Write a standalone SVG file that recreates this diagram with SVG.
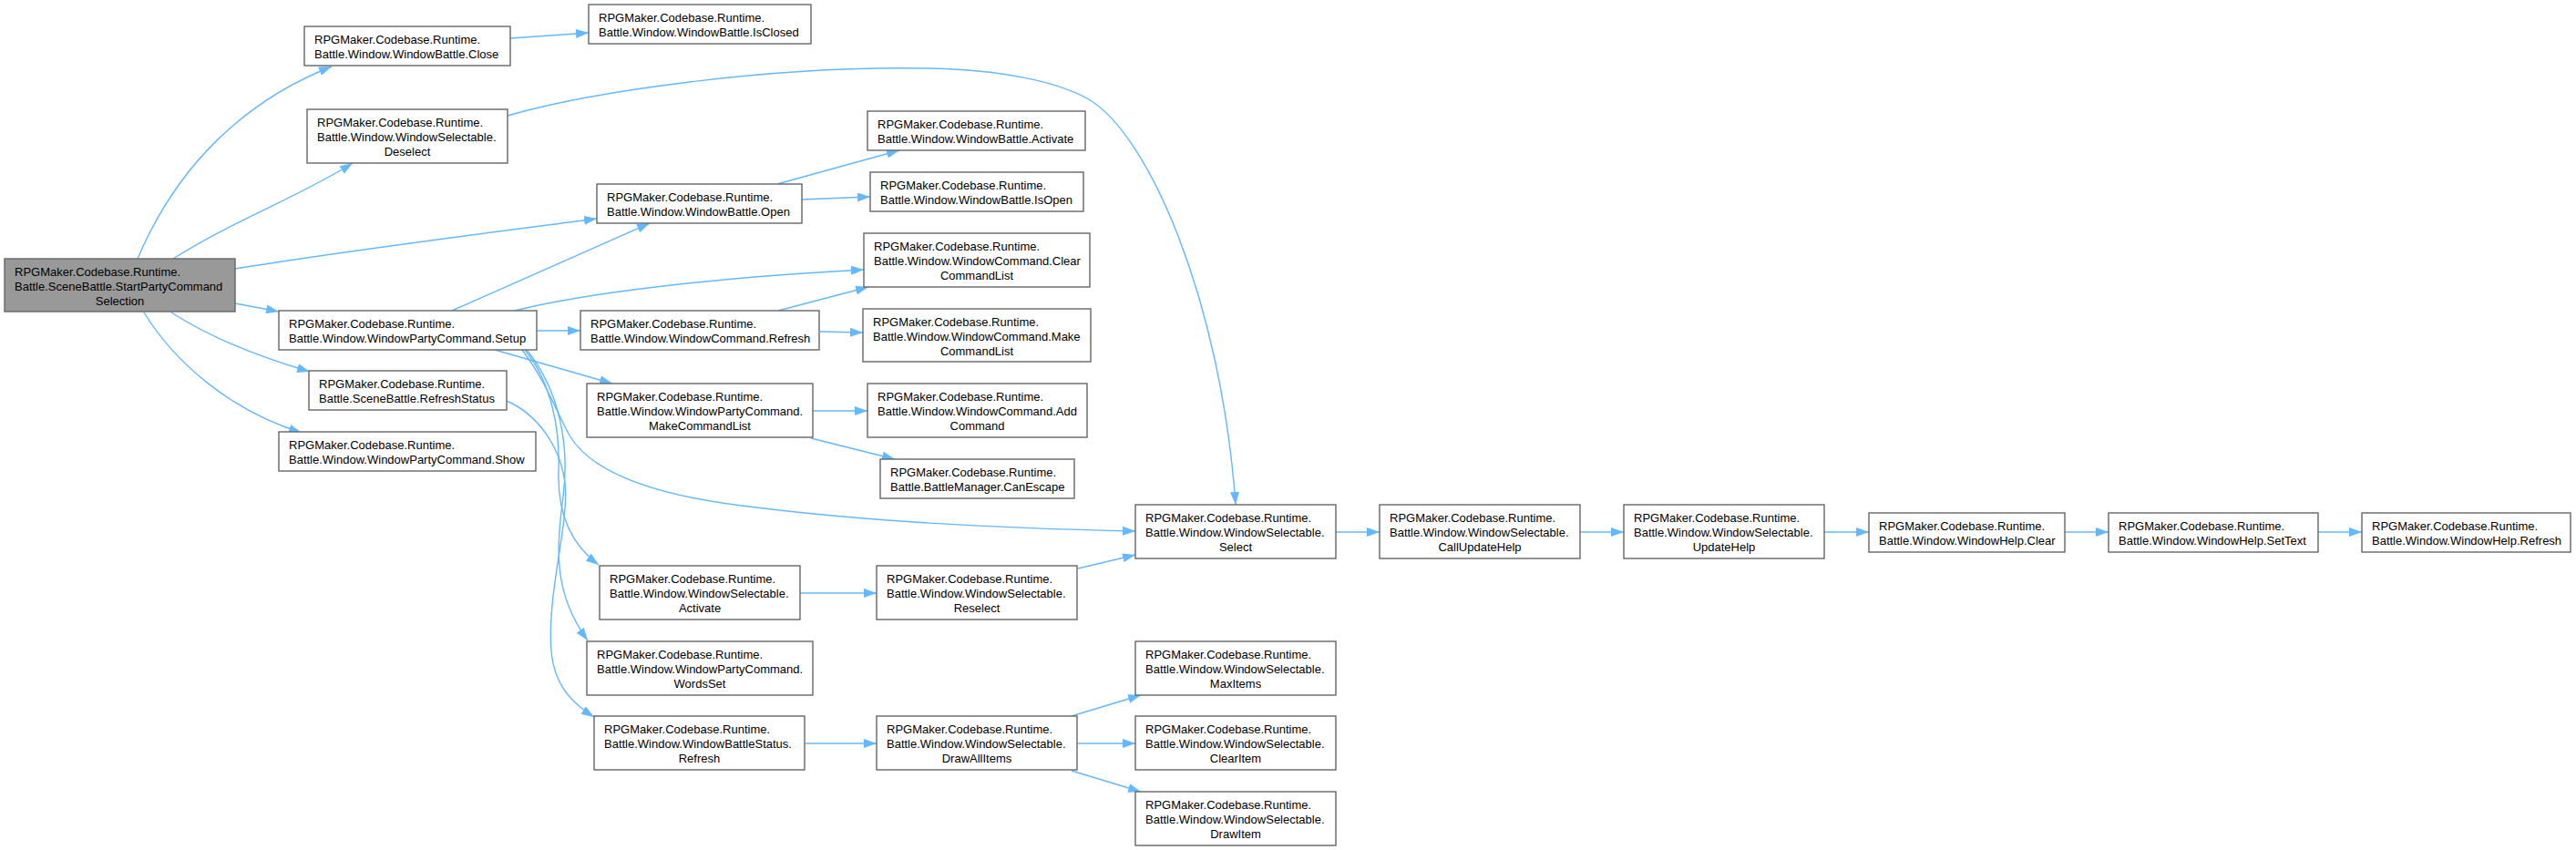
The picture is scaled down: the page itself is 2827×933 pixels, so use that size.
<svg xmlns="http://www.w3.org/2000/svg" width="2827" height="933" viewBox="0 0 2827 933">
<style>
.n rect{fill:#fff;stroke:#666;stroke-width:1.4}
.m rect{fill:#999;stroke:#666;stroke-width:1.4}
text{font-family:"Liberation Sans",Arial,sans-serif;font-size:13px;fill:#000}
.c{text-anchor:middle}
#edges path{fill:none;stroke:#63b8ff;stroke-width:1.4;marker-end:url(#ah)}
</style>
<defs>
<marker id="ah" viewBox="0 0 14 10" refX="14" refY="5" markerUnits="userSpaceOnUse" markerWidth="14" markerHeight="10" orient="auto">
<path d="M0,0 L14,5 L0,10 z" fill="#63b8ff"/>
</marker>
</defs>
<rect width="2827" height="933" fill="#fff"/>
<g id="edges">
<path d="M151,284 C195,180 270,110 364,73"/>
<path d="M190,284 C260,240 330,215 387,179"/>
<path d="M258,295 C380,275 540,255 655,240"/>
<path d="M258,333 L306,342"/>
<path d="M188,343 C230,370 285,392 340,408"/>
<path d="M158,343 C190,395 250,450 331,475"/>
<path d="M560,42 L646,36"/>
<path d="M557,127 C650,100 850,72 1013,75 C1100,76 1160,90 1193,108 C1260,145 1340,330 1356,554"/>
<path d="M853,202 L987,165"/>
<path d="M880,219 L955,216"/>
<path d="M496,341 L713,245"/>
<path d="M565,341 C640,322 780,305 948,296"/>
<path d="M589,363 L637,363"/>
<path d="M543,384 L672,421"/>
<path d="M573,384 C600,420 612,455 625,478 C650,520 720,545 830,557 C950,572 1100,580 1246,583"/>
<path d="M576,384 C605,420 615,470 613,520 C612,570 630,600 657,620"/>
<path d="M578,384 C615,430 625,490 618,545 C611,600 606,650 645,703"/>
<path d="M556,440 C590,455 615,490 620,530 C625,575 600,650 605,715 C608,752 628,772 652,787"/>
<path d="M892,451 L952,451"/>
<path d="M890,481 L982,504"/>
<path d="M854,341 L953,315"/>
<path d="M900,364 L947,365"/>
<path d="M878,651 L962,651"/>
<path d="M1183,624 L1246,609"/>
<path d="M884,816 L962,816"/>
<path d="M1176,786 L1252,763"/>
<path d="M1183,816 L1246,816"/>
<path d="M1176,846 L1252,869"/>
<path d="M1466,584 L1514,584"/>
<path d="M1734,584 L1782,584"/>
<path d="M2002,584 L2051,584"/>
<path d="M2266,584 L2314,584"/>
<path d="M2544,584 L2592,584"/>
</g>
<g id="main" class="m"><rect x="5" y="284" width="253" height="58"/><text x="16" y="302.5">RPGMaker.Codebase.Runtime.</text><text x="16" y="318.5">Battle.SceneBattle.StartPartyCommand</text><text class="c" x="131.5" y="334.5">Selection</text></g>
<g id="close" class="n"><rect x="334" y="29" width="226" height="43"/><text x="345" y="47.5">RPGMaker.Codebase.Runtime.</text><text x="345" y="63.5">Battle.Window.WindowBattle.Close</text></g>
<g id="isclosed" class="n"><rect x="646" y="5" width="244" height="43"/><text x="657" y="23.5">RPGMaker.Codebase.Runtime.</text><text x="657" y="39.5">Battle.Window.WindowBattle.IsClosed</text></g>
<g id="deselect" class="n"><rect x="337" y="120" width="220" height="59"/><text x="348" y="138.5">RPGMaker.Codebase.Runtime.</text><text x="348" y="154.5">Battle.Window.WindowSelectable.</text><text class="c" x="447" y="170.5">Deselect</text></g>
<g id="open" class="n"><rect x="655" y="202" width="225" height="43"/><text x="666" y="220.5">RPGMaker.Codebase.Runtime.</text><text x="666" y="236.5">Battle.Window.WindowBattle.Open</text></g>
<g id="wbactivate" class="n"><rect x="952" y="122" width="239" height="43"/><text x="963" y="140.5">RPGMaker.Codebase.Runtime.</text><text x="963" y="156.5">Battle.Window.WindowBattle.Activate</text></g>
<g id="isopen" class="n"><rect x="955" y="189" width="234" height="43"/><text x="966" y="207.5">RPGMaker.Codebase.Runtime.</text><text x="966" y="223.5">Battle.Window.WindowBattle.IsOpen</text></g>
<g id="clearcmd" class="n"><rect x="948" y="256" width="248" height="59"/><text x="959" y="274.5">RPGMaker.Codebase.Runtime.</text><text x="959" y="290.5">Battle.Window.WindowCommand.Clear</text><text class="c" x="1072" y="306.5">CommandList</text></g>
<g id="setup" class="n"><rect x="306" y="341" width="283" height="43"/><text x="317" y="359.5">RPGMaker.Codebase.Runtime.</text><text x="317" y="375.5">Battle.Window.WindowPartyCommand.Setup</text></g>
<g id="cmdrefresh" class="n"><rect x="637" y="341" width="262" height="43"/><text x="648" y="359.5">RPGMaker.Codebase.Runtime.</text><text x="648" y="375.5">Battle.Window.WindowCommand.Refresh</text></g>
<g id="makecmd" class="n"><rect x="947" y="339" width="250" height="58"/><text x="958" y="357.5">RPGMaker.Codebase.Runtime.</text><text x="958" y="373.5">Battle.Window.WindowCommand.Make</text><text class="c" x="1072" y="389.5">CommandList</text></g>
<g id="refreshstatus" class="n"><rect x="339" y="407" width="217" height="43"/><text x="350" y="425.5">RPGMaker.Codebase.Runtime.</text><text x="350" y="441.5">Battle.SceneBattle.RefreshStatus</text></g>
<g id="pmakecmd" class="n"><rect x="644" y="421" width="248" height="59"/><text x="655" y="439.5">RPGMaker.Codebase.Runtime.</text><text x="655" y="455.5">Battle.Window.WindowPartyCommand.</text><text class="c" x="768" y="471.5">MakeCommandList</text></g>
<g id="addcmd" class="n"><rect x="952" y="421" width="241" height="59"/><text x="963" y="439.5">RPGMaker.Codebase.Runtime.</text><text x="963" y="455.5">Battle.Window.WindowCommand.Add</text><text class="c" x="1072.5" y="471.5">Command</text></g>
<g id="show" class="n"><rect x="306" y="474" width="282" height="43"/><text x="317" y="492.5">RPGMaker.Codebase.Runtime.</text><text x="317" y="508.5">Battle.Window.WindowPartyCommand.Show</text></g>
<g id="canescape" class="n"><rect x="966" y="504" width="213" height="43"/><text x="977" y="522.5">RPGMaker.Codebase.Runtime.</text><text x="977" y="538.5">Battle.BattleManager.CanEscape</text></g>
<g id="select" class="n"><rect x="1246" y="554" width="220" height="59"/><text x="1257" y="572.5">RPGMaker.Codebase.Runtime.</text><text x="1257" y="588.5">Battle.Window.WindowSelectable.</text><text class="c" x="1356" y="604.5">Select</text></g>
<g id="callupdatehelp" class="n"><rect x="1514" y="554" width="220" height="59"/><text x="1525" y="572.5">RPGMaker.Codebase.Runtime.</text><text x="1525" y="588.5">Battle.Window.WindowSelectable.</text><text class="c" x="1624" y="604.5">CallUpdateHelp</text></g>
<g id="updatehelp" class="n"><rect x="1782" y="554" width="220" height="59"/><text x="1793" y="572.5">RPGMaker.Codebase.Runtime.</text><text x="1793" y="588.5">Battle.Window.WindowSelectable.</text><text class="c" x="1892" y="604.5">UpdateHelp</text></g>
<g id="helpclear" class="n"><rect x="2051" y="563" width="215" height="43"/><text x="2062" y="581.5">RPGMaker.Codebase.Runtime.</text><text x="2062" y="597.5">Battle.Window.WindowHelp.Clear</text></g>
<g id="settext" class="n"><rect x="2314" y="563" width="230" height="43"/><text x="2325" y="581.5">RPGMaker.Codebase.Runtime.</text><text x="2325" y="597.5">Battle.Window.WindowHelp.SetText</text></g>
<g id="helprefresh" class="n"><rect x="2592" y="563" width="229" height="43"/><text x="2603" y="581.5">RPGMaker.Codebase.Runtime.</text><text x="2603" y="597.5">Battle.Window.WindowHelp.Refresh</text></g>
<g id="wsactivate" class="n"><rect x="658" y="621" width="220" height="59"/><text x="669" y="639.5">RPGMaker.Codebase.Runtime.</text><text x="669" y="655.5">Battle.Window.WindowSelectable.</text><text class="c" x="768" y="671.5">Activate</text></g>
<g id="reselect" class="n"><rect x="962" y="621" width="220" height="59"/><text x="973" y="639.5">RPGMaker.Codebase.Runtime.</text><text x="973" y="655.5">Battle.Window.WindowSelectable.</text><text class="c" x="1072" y="671.5">Reselect</text></g>
<g id="wordsset" class="n"><rect x="644" y="704" width="248" height="59"/><text x="655" y="722.5">RPGMaker.Codebase.Runtime.</text><text x="655" y="738.5">Battle.Window.WindowPartyCommand.</text><text class="c" x="768" y="754.5">WordsSet</text></g>
<g id="maxitems" class="n"><rect x="1246" y="704" width="220" height="59"/><text x="1257" y="722.5">RPGMaker.Codebase.Runtime.</text><text x="1257" y="738.5">Battle.Window.WindowSelectable.</text><text class="c" x="1356" y="754.5">MaxItems</text></g>
<g id="bsrefresh" class="n"><rect x="652" y="786" width="231" height="59"/><text x="663" y="804.5">RPGMaker.Codebase.Runtime.</text><text x="663" y="820.5">Battle.Window.WindowBattleStatus.</text><text class="c" x="767.5" y="836.5">Refresh</text></g>
<g id="drawallitems" class="n"><rect x="962" y="786" width="220" height="59"/><text x="973" y="804.5">RPGMaker.Codebase.Runtime.</text><text x="973" y="820.5">Battle.Window.WindowSelectable.</text><text class="c" x="1072" y="836.5">DrawAllItems</text></g>
<g id="clearitem" class="n"><rect x="1246" y="786" width="220" height="59"/><text x="1257" y="804.5">RPGMaker.Codebase.Runtime.</text><text x="1257" y="820.5">Battle.Window.WindowSelectable.</text><text class="c" x="1356" y="836.5">ClearItem</text></g>
<g id="drawitem" class="n"><rect x="1246" y="869" width="220" height="59"/><text x="1257" y="887.5">RPGMaker.Codebase.Runtime.</text><text x="1257" y="903.5">Battle.Window.WindowSelectable.</text><text class="c" x="1356" y="919.5">DrawItem</text></g>
</svg>
